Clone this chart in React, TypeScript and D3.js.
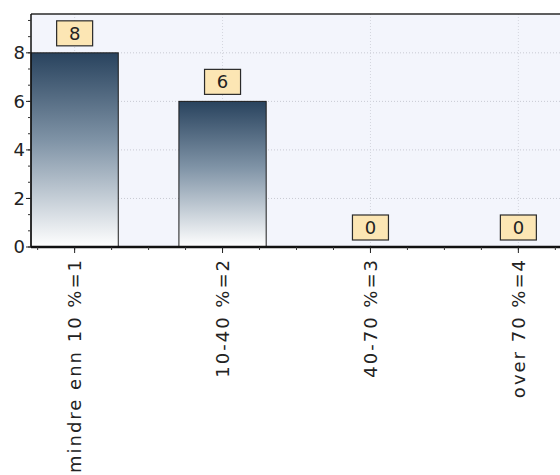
import * as d3 from 'd3'

const categories = ['mindre enn 10 %=1', '10-40 %=2', '40-70 %=3', 'over 70 %=4']
const values = [8, 6, 0, 0]
const yTicks = [0, 2, 4, 6, 8]

const width = 560
const height = 475
const margin = { top: 14, left: 31, bottom: 247, right: 562 }
const font = 'DejaVu Sans, sans-serif'

export default function App() {
  const x = d3.scaleBand<string>()
    .domain(categories)
    .range([margin.left, margin.right])
    .paddingInner(0.41)
    .paddingOuter(0)
  const y = d3.scaleLinear().domain([0, 9.6]).range([margin.bottom, margin.top])

  const step = x.step()
  const bw = x.bandwidth()
  const cx = (c: string) => (x(c) ?? 0) + bw / 2

  // minor ticks: quarter steps on x, thirds of a major step on y
  const c0 = cx(categories[0])
  const xMinor = d3.range(-1, 20).map(k => c0 + k * step / 4).filter(v => v > margin.left && v < width)
  const yMinor = d3.range(0, 29).map(k => k * 2 / 3).filter(v => v <= 9.6)

  return (
    <svg width={width} height={height} style={{ position: 'absolute', left: 0, top: 0, background: '#fff' }}>
      <defs>
        <linearGradient id="barGrad" x1="0" y1="0" x2="0" y2="1">
          <stop offset="0%" stopColor="#29435e" />
          <stop offset="45%" stopColor="#7f93a6" />
          <stop offset="100%" stopColor="#ffffff" />
        </linearGradient>
      </defs>

      {/* plot background */}
      <rect x={margin.left} y={margin.top} width={margin.right - margin.left}
        height={margin.bottom - margin.top} fill="#f3f5fc" />

      {/* grid */}
      {yTicks.filter(t => t > 0).map(t => (
        <line key={'gy' + t} x1={margin.left} x2={margin.right} y1={y(t)} y2={y(t)}
          stroke="#c8cad3" strokeDasharray="1,2" />
      ))}
      {categories.map(c => (
        <line key={'gx' + c} x1={cx(c)} x2={cx(c)} y1={margin.top} y2={margin.bottom}
          stroke="#d4d6de" strokeDasharray="1,2" />
      ))}

      {/* bars */}
      {categories.map((c, i) => values[i] > 0 && (
        <rect key={'b' + c} x={x(c)} y={y(values[i])} width={bw}
          height={y(0) - y(values[i])} fill="url(#barGrad)" stroke="#1c1c1c" strokeWidth={1} />
      ))}

      {/* frame and axes */}
      <line x1={margin.left} x2={margin.right} y1={margin.top} y2={margin.top} stroke="#2a2a2a" strokeWidth={1.5} />
      <line x1={margin.left} x2={margin.left} y1={margin.top} y2={margin.bottom} stroke="#111" strokeWidth={1.5} />
      <line x1={margin.left} x2={margin.right} y1={margin.bottom} y2={margin.bottom} stroke="#111" strokeWidth={2.5} />

      {yMinor.map(t => (
        <line key={'ym' + t} x1={margin.left - 3} x2={margin.left} y1={y(t)} y2={y(t)} stroke="#333" />
      ))}
      {yTicks.map(t => (
        <g key={'yt' + t}>
          <line x1={margin.left - 5} x2={margin.left} y1={y(t)} y2={y(t)} stroke="#222" />
          <text x={margin.left - 6} y={y(t)} dy="0.36em" textAnchor="end"
            fontFamily={font} fontSize={18} fill="#222">{t}</text>
        </g>
      ))}

      {xMinor.map(v => (
        <line key={'xm' + v} x1={v} x2={v} y1={margin.bottom} y2={margin.bottom + 3} stroke="#333" />
      ))}
      {categories.map(c => (
        <g key={'xt' + c}>
          <line x1={cx(c)} x2={cx(c)} y1={margin.bottom} y2={margin.bottom + 6} stroke="#222" />
          <text transform={`translate(${cx(c)},${margin.bottom + 11}) rotate(-90)`}
            dy="0.36em" textAnchor="end" fontFamily={font} fontSize={18}
            letterSpacing={2} fill="#222">{c}</text>
        </g>
      ))}

      {/* value labels */}
      {categories.map((c, i) => {
        const by = y(values[i]) - 7 - 25
        return (
          <g key={'v' + c}>
            <rect x={cx(c) - 18} y={by} width={36} height={25} fill="#fce6b4" stroke="#2a2a2a" strokeWidth={1.2} />
            <text x={cx(c)} y={by + 12.5} dy="0.36em" textAnchor="middle"
              fontFamily={font} fontSize={18} fill="#222">{values[i]}</text>
          </g>
        )
      })}
    </svg>
  )
}
